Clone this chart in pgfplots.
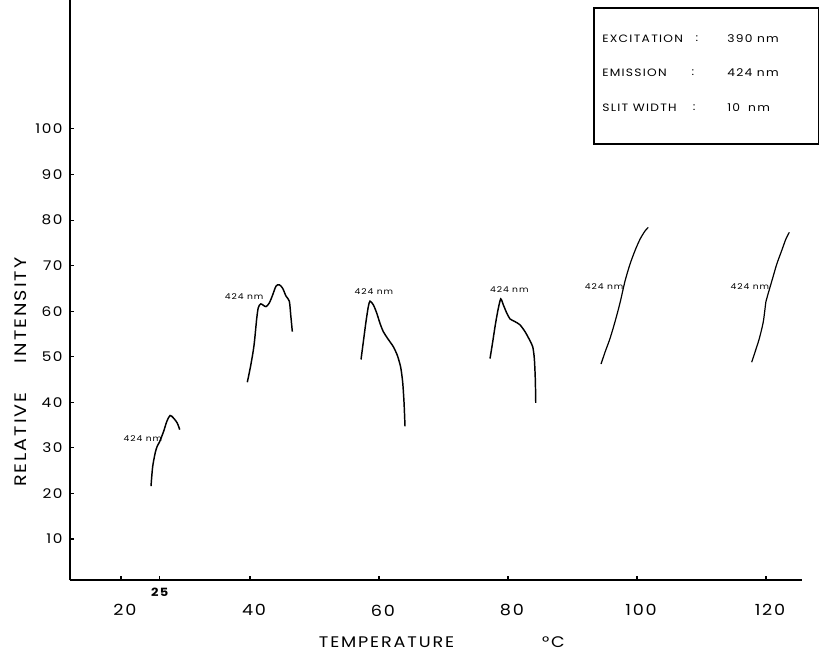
\documentclass[border=0pt]{standalone}
\usepackage{fontspec}
\setmainfont{Poppins}[FakeStretch=1.15,LetterSpace=12]
\usepackage{pgfplots}
\pgfplotsset{compat=1.18}
\begin{document}
\begin{tikzpicture}
\begin{axis}[
  at={(0,0)}, anchor=south west,
  scale only axis, width=549pt, height=435pt,
  xmin=12.09, xmax=125.58, ymin=1, ymax=128.3,
  axis x line*=bottom, axis y line*=left,
  axis line style={line width=0.8pt,-},
  tick align=inside, major tick length=3pt,
  tick style={black,line width=0.8pt},
  xtick={20,40,60,80,100,120},
  ytick={10,20,30,40,50,60,70,80,90,100},
  extra x ticks={26},
  extra x tick labels={25},
  extra x tick style={xticklabel style={font=\fontsize{8.5}{9}\bfseries, yshift=12.5pt, xshift=-3pt}},
  /pgf/number format/assume math mode=true,
  xticklabel style={font=\fontsize{11.5}{12}\selectfont, yshift=-15pt, xshift=3pt},
  yticklabel style={font=\fontsize{10}{11}\selectfont, xshift=-2pt},
  xlabel={TEMPERATURE\hspace{66pt}°C},
  xlabel style={font=\fontsize{11.5}{12}\selectfont, at={(axis description cs:0.508,-0.1069)}, anchor=center},
  ylabel={RELATIVE\hspace{22pt}INTENSITY},
  ylabel style={font=\fontsize{12.5}{13}\selectfont, at={(axis description cs:-0.0669,0.358)}, anchor=center},
  clip=false,
]
\addplot[black, line width=1.1pt, smooth, tension=0.5] coordinates {
(24.65,21.6) (24.9,25.8) (25.3,28.9) (25.6,30.3) (26.0,31.4) (26.6,33.6) (27.1,35.8) (27.6,37.1) (28.1,36.6) (28.7,35.5) (29.1,34.0)};
\addplot[black, line width=1.1pt, smooth, tension=0.5] coordinates {
(39.58,44.4) (40.11,48.1) (40.62,52.5) (41.04,58.4) (41.29,60.8) (41.66,61.6) (42.06,61.3) (42.48,61.0) (42.99,61.8) (43.52,63.6) (44.03,65.5) (44.54,65.8) (45.07,65.0) (45.58,63.3) (46.09,62.2) (46.31,59.2) (46.56,55.5)};
\addplot[black, line width=1.1pt, smooth, tension=0.4] coordinates {
(57.21,49.4) (57.57,53.3) (57.98,57.7) (58.34,61.0) (58.60,62.2) (59.12,61.4) (59.64,59.6) (60.16,57.3) (60.67,55.5) (61.44,53.8) (62.22,52.2) (62.84,50.3) (63.36,47.7) (63.67,44.4) (63.88,39.9) (64.03,34.7)};
\addplot[black, line width=1.1pt, smooth, tension=0.4] coordinates {
(77.21,49.6) (77.63,53.3) (78.03,57.0) (78.45,60.3) (78.87,62.7) (79.27,61.4) (79.80,59.6) (80.31,58.3) (81.09,57.7) (81.86,57.0) (82.64,55.5) (83.30,53.8) (83.83,52.2) (84.08,49.6) (84.23,45.1) (84.30,39.9)};
\addplot[black, line width=0.9pt, smooth, tension=0.5] coordinates {
(94.42,48.4) (95.04,51.0) (95.81,54.0) (96.59,57.7) (97.36,61.8) (98.14,66.6) (98.91,70.3) (99.69,73.3) (100.47,75.8) (101.24,77.6) (101.75,78.4)};
\addplot[black, line width=0.9pt, smooth, tension=0.5] coordinates {
(117.78,48.8) (118.29,51.0) (118.96,54.0) (119.58,57.7) (120.0,62.2) (120.36,64.0) (121.04,67.3) (121.66,70.3) (122.43,73.3) (123.1,75.9) (123.61,77.3)};
\begin{scope}[every node/.style={font=\fontsize{6}{7}\selectfont, inner sep=0pt}]
\node at (axis cs:23.4,32) {424 nm};
\node at (axis cs:39.1,63.3) {424 nm};
\node at (axis cs:59.2,64.4) {424 nm};
\node at (axis cs:80.2,64.7) {424 nm};
\node at (axis cs:94.9,65.3) {424 nm};
\node at (axis cs:117.5,65.3) {424 nm};
\end{scope}
\end{axis}
\draw[line width=0.9pt] (393pt,429pt) rectangle (561.5pt,327pt);
\begin{scope}[every node/.style={font=\fontsize{8}{9}\selectfont, inner sep=0pt, anchor=west}]
\node at (399pt,405.75pt) {EXCITATION};
\node at (469pt,405.75pt) {:};
\node at (492.75pt,405.75pt) {390 nm};
\node at (399pt,380.6pt) {EMISSION};
\node at (466pt,380.6pt) {:};
\node at (492.75pt,380.6pt) {424 nm};
\node at (399pt,354.4pt) {SLIT WIDTH};
\node at (467pt,354.4pt) {:};
\node at (492.75pt,354.4pt) {10\hspace{6pt}nm};
\end{scope}
\pgfresetboundingbox
\useasboundingbox (-52.5pt,-57pt) rectangle (562.5pt,435pt);
\end{tikzpicture}
\end{document}
